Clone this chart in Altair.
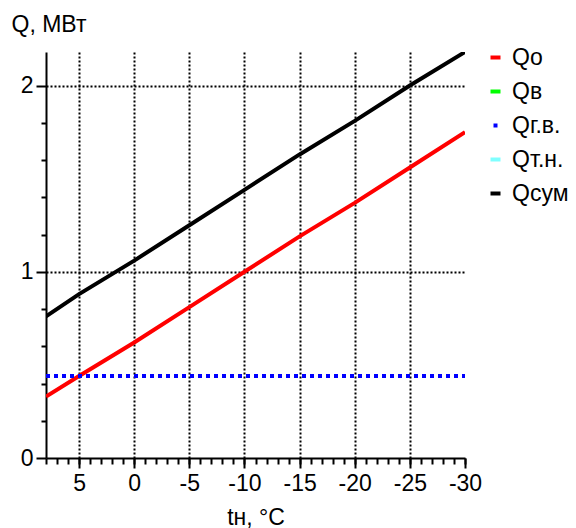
import altair as alt
import pandas as pd

temps = [8, 5, 0, -5, -10, -15, -20, -25, -30]
q_o = [0.33, 0.44, 0.62, 0.81, 1.00, 1.19, 1.37, 1.56, 1.75]
q_gv = [0.44, 0.44, 0.44, 0.44, 0.44, 0.44, 0.44, 0.44, 0.44]
q_sum = [0.76, 0.88, 1.06, 1.25, 1.44, 1.63, 1.81, 2.00, 2.18]

series_names = ["Qо", "Qв", "Qг.в.", "Qт.н.", "Qсум"]
series_colors = ["#ff0000", "#00ff00", "#0000ff", "#80ffff", "#000000"]
DASH = "M-1,-0.4H1V0.4H-1Z"
SQUARE = "M-0.4,-0.4H0.4V0.4H-0.4Z"
series_shapes = [DASH, DASH, SQUARE, DASH, DASH]

x_ticks = [5, 0, -5, -10, -15, -20, -25, -30]
x_grid = [5, 0, -5, -10, -15, -20, -25]
x_minor = list(range(8, -31, -1))
y_ticks = [0, 1, 2]
y_grid = [1, 2]
y_minor = [0.2, 0.4, 0.6, 0.8, 1.2, 1.4, 1.6, 1.8]

rows = []
for name, vals in [("Qо", q_o), ("Qг.в.", q_gv), ("Qсум", q_sum)]:
    for t, v in zip(temps, vals):
        rows.append({"t": t, "q": v, "s": name})
df = pd.DataFrame(rows)

FONT = "Liberation Sans"
FS = 23
xscale = alt.Scale(domain=[8, -30], nice=False, zero=False)
yscale = alt.Scale(domain=[0, 2.18], nice=False, zero=False)


def cscale():
    return alt.Scale(domain=series_names, range=series_colors)


base = alt.Chart(df)

x_main = alt.X("t:Q", scale=xscale, axis=alt.Axis(
    values=x_ticks, orient="bottom", title="tн, °C", titleFont=FONT, titleFontSize=FS,
    titleFontWeight="normal", titleColor="black", titlePadding=11,
    labelFont=FONT, labelFontSize=FS, labelColor="black", labelPadding=4,
    labelExpr="toString(datum.value)",
    tickSize=10, tickColor="black", tickWidth=2, domainColor="black", domainWidth=2,
    grid=False, labelFlush=False))
y_main = alt.Y("q:Q", scale=yscale, axis=alt.Axis(
    values=y_ticks, orient="left", title="Q, МВт", titleFont=FONT, titleFontSize=FS,
    titleFontWeight="normal", titleColor="black", titleAngle=0, titleAlign="left",
    titleBaseline="middle", titleX=-35, titleY=-28,
    labelFont=FONT, labelFontSize=FS, labelColor="black", labelPadding=3,
    labelExpr="toString(datum.value)",
    tickSize=10, tickColor="black", tickWidth=2, domainColor="black", domainWidth=2,
    grid=False, labelFlush=False))

grid_layer = base.transform_filter(alt.datum.q < -100).mark_point().encode(
    x=alt.X("t:Q", scale=xscale, axis=alt.Axis(values=x_grid, orient="bottom", labels=False, title=None,
                                                ticks=False, domain=False, grid=True, gridColor="black",
                                                gridDash=[2, 2], gridWidth=2, gridOpacity=1)),
    y=alt.Y("q:Q", scale=yscale, axis=alt.Axis(values=y_grid, orient="left", labels=False, title=None,
                                                ticks=False, domain=False, grid=True, gridColor="black",
                                                gridDash=[2, 2], gridWidth=2, gridOpacity=1)),
)

solid = base.transform_filter(alt.datum.s != "Qг.в.").mark_line(strokeWidth=4, clip=True).encode(
    x=x_main, y=y_main, color=alt.Color("s:N", scale=cscale(), legend=None))

dotted = base.transform_filter(alt.datum.s == "Qг.в.").mark_line(strokeWidth=4, strokeDash=[4, 4], clip=True).encode(
    x=alt.X("t:Q", scale=xscale, axis=alt.Axis(values=x_minor, orient="bottom", labels=False, title=None,
                                                tickSize=6, tickColor="black", tickWidth=2, domain=False, grid=False)),
    y=alt.Y("q:Q", scale=yscale, axis=alt.Axis(values=y_minor, orient="left", labels=False, title=None,
                                                tickSize=5, tickColor="black", tickWidth=2, domain=False, grid=False)),
    color=alt.Color("s:N", scale=cscale(), legend=None))

leg = alt.Legend(title=None, orient="none", legendX=438, legendY=-6,
                 symbolSize=100, symbolStrokeWidth=0, symbolOpacity=1,
                 labelFont=FONT, labelFontSize=FS, labelColor="black",
                 rowPadding=10, labelOffset=5, padding=0)

legend_layer = base.transform_filter(alt.datum.q < -100).mark_point(filled=True, strokeWidth=0).encode(
    x=alt.X("t:Q", scale=xscale, axis=None),
    y=alt.Y("q:Q", scale=yscale, axis=None),
    fill=alt.Fill("s:N", scale=alt.Scale(domain=series_names, range=series_colors), legend=leg),
    shape=alt.Shape("s:N", scale=alt.Scale(domain=series_names, range=series_shapes), legend=leg),
)

chart = alt.layer(grid_layer, solid, dotted, legend_layer).resolve_axis(
    x="independent", y="independent").resolve_scale(color="independent", fill="independent", shape="independent").properties(
    width=419, height=406,
    padding={"left": 46, "top": 52, "right": 111, "bottom": 70},
    autosize=alt.AutoSizeParams(type="none"),
    background="white",
).configure_view(stroke=None)

chart.save("out.html", embed_options={"renderer": "svg", "actions": False})
